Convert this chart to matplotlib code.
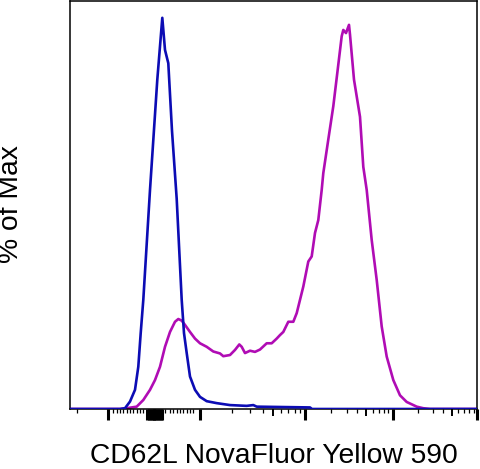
import matplotlib
matplotlib.use("Agg")
import matplotlib.pyplot as plt
import numpy as np

# Display channel (0..407 across the axis) and % of Max
blue_x = [0, 50, 55, 60, 65, 68.3, 70.7, 73.3, 80, 87.3, 92.3, 95, 98.3, 102, 106.7,
          111.7, 114, 116.7, 120, 125, 130, 136.7, 146.7, 160, 176.7, 180, 183.3,
          186.7, 240, 242, 407]
blue_y = [0, 0, 0.2, 1.9, 4.9, 10.8, 19.4, 27.9, 56.0, 84.2, 100, 91.8, 88.4, 71.1, 53.7,
          27.9, 19.4, 14.3, 8.3, 4.9, 3.1, 2.0, 1.5, 1.0, 0.8, 0.9, 1.0,
          0.6, 0.4, 0, 0]

mag_x = [0, 50, 56.7, 66.7, 73.3, 80, 85, 90, 95, 100, 105, 108.3, 111.7, 115, 120, 125,
         130, 136.7, 143.3, 150, 153.3, 160, 165, 169.3, 171.7, 175, 180, 185, 190,
         196.7, 201.7, 206.7, 210, 213.3, 218.3, 223.3, 226.7, 230, 233.3, 238.3,
         241.7, 245, 248.3, 251.7, 253.3, 258.3, 263.3, 267.3, 271.7, 273.3, 276,
         279, 280, 284, 290, 293.3, 296.7, 301.7, 306.7, 311.7, 316.7, 323.3, 330,
         336.7, 346.7, 353.3, 360, 407]
mag_y = [0, 0, 0.2, 0.6, 2.3, 4.9, 7.4, 10.8, 15.9, 19.7, 22.3, 23.0, 22.6, 21.5, 19.7, 18.0,
         16.8, 15.9, 14.7, 14.2, 13.5, 13.8, 15.1, 16.5, 15.9, 14.3, 14.9, 14.6, 15.2,
         16.8, 16.8, 18.0, 18.9, 19.7, 22.3, 22.3, 24.5, 27.9, 31.3, 37.7,
         39.0, 45.0, 48.3, 56.0, 60.3, 68.9, 77.4, 85.9, 95.3, 96.9, 96.1,
         98.2, 95.7, 84.2, 74.7, 61.9, 56.0, 43.2, 33.0, 21.1, 13.4, 7.4, 3.5,
         1.8, 0.6, 0.2, 0, 0]

# tick positions (display channel)
major_ticks = [38.3, 84, 130, 234.5, 322.5, 407]
zero_cluster = [77, 78.5, 80, 81.5, 83, 84.5, 86, 87.5, 89, 90.5, 92]
minor_ticks = [6.7, 43, 47, 50, 53, 57, 60, 63, 67, 70, 73,
               95, 100, 103, 107, 110, 113, 117, 120, 123,
               161.6, 180, 193.2, 210.9, 217.7, 225.3, 230.2,
               261.2, 276.5, 287.4, 302.7, 308.5, 313.6, 318,
               347.6, 362.6, 373, 388, 394, 399, 403.5]
medium_ticks = [203.4, 295.8, 381.9]

BLUE = "#0C0CB4"
MAG = "#B00CB4"

fig = plt.figure(figsize=(4.8, 4.69), dpi=100)
ax = fig.add_axes([70/480, 60/469, 407/480, 408/469])

ax.plot(blue_x, blue_y, color=BLUE, lw=1.9, solid_joinstyle="round", zorder=3)
ax.plot(mag_x, mag_y, color=MAG, lw=1.9, solid_joinstyle="round", zorder=2)

ax.set_xlim(0, 407)
ax.set_ylim(0, 104.3)

for s in ax.spines.values():
    s.set_linewidth(1.1)
    s.set_color("black")

ax.set_yticks([])
ax.set_xticks(major_ticks + zero_cluster)
ax.set_xticks(minor_ticks, minor=True)
ax.set_xticklabels([])
ax.tick_params(axis="x", which="major", length=8, width=2.2, direction="out", color="black")
ax.tick_params(axis="x", which="minor", length=3, width=0.9, direction="out", color="black")

sec = ax.secondary_xaxis("bottom")
sec.set_xticks(medium_ticks)
sec.set_xticklabels([])
sec.tick_params(axis="x", length=5, width=1.4, color="black")
sec.spines["bottom"].set_visible(False)

fig.text(273.5/480, (469-463)/469, "CD62L NovaFluor Yellow 590", ha="center",
         va="baseline", fontsize=20.3, family="Liberation Sans")
fig.text(11.5/480, 1 - 204/469, "% of Max", ha="center", va="center", rotation=90,
         fontsize=20.3, family="Liberation Sans")

fig.savefig("out.png", dpi=100)
